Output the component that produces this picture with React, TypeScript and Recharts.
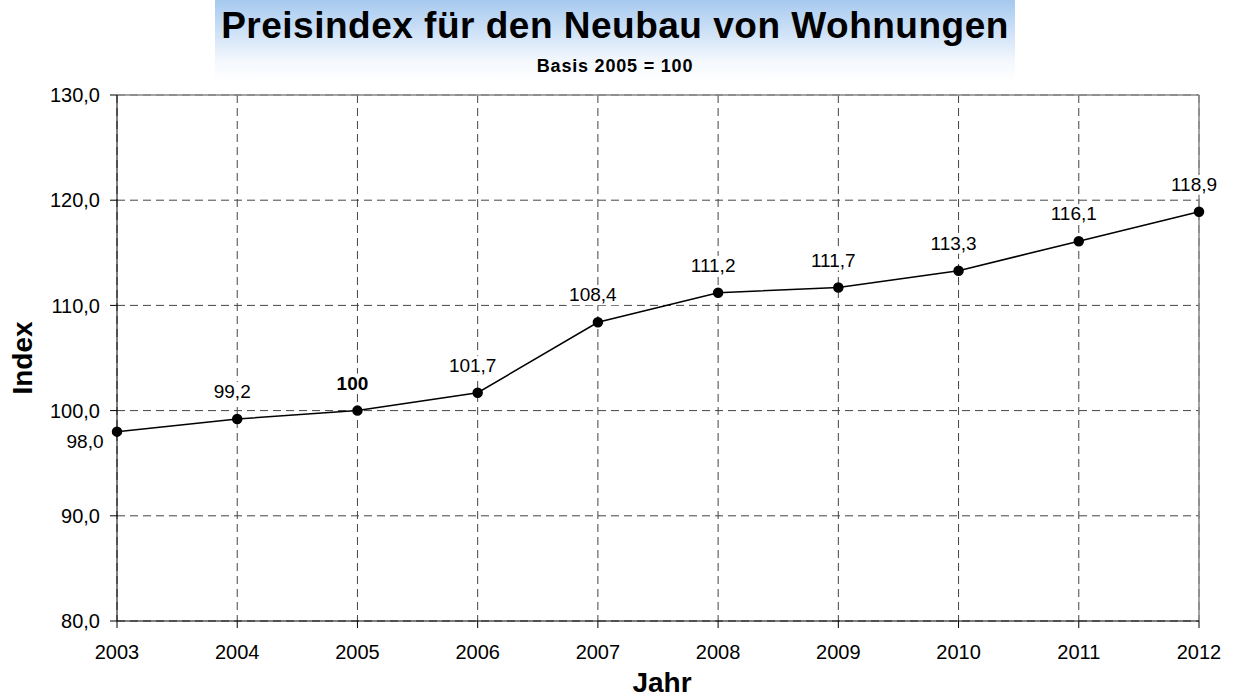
import React from 'react';
import {
  LineChart, Line, XAxis, YAxis, CartesianGrid, ReferenceLine, LabelList,
} from 'recharts';

const years = ['2003', '2004', '2005', '2006', '2007', '2008', '2009', '2010', '2011', '2012'];
const indexValues = [98.0, 99.2, 100, 101.7, 108.4, 111.2, 111.7, 113.3, 116.1, 118.9];
const pointLabels = ['98,0', '99,2', '100', '101,7', '108,4', '111,2', '111,7', '113,3', '116,1', '118,9'];
const yTicks = [80, 90, 100, 110, 120, 130];

const data = years.map((year, i) => ({ year, value: indexValues[i], label: pointLabels[i] }));

const FONT = '"Liberation Sans", Arial, Helvetica, sans-serif';
const fmt = (v: number) => v.toFixed(1).replace('.', ',');

// value label above each point, with a white box that hides the grid behind it
function PointLabel(props: any) {
  const { x, y, index } = props;
  const text = pointLabels[index];
  const bold = text === '100';
  const w = text.length * 10.5 + 2;
  // first point: label sits left of the axis, under the point
  if (index === 0) {
    return (
      <text x={x - 32} y={y + 16} textAnchor="middle" fontSize={19} fontFamily={FONT} fill="#000">
        {text}
      </text>
    );
  }
  const cx = x - 5;
  const by = y - 21;
  return (
    <g>
      <rect x={cx - w / 2} y={by - 16} width={w} height={20} fill="#fff" />
      <text x={cx} y={by} textAnchor="middle" fontSize={19} fontWeight={bold ? 700 : 400} fontFamily={FONT} fill="#000">
        {text}
      </text>
    </g>
  );
}

export default function App() {
  return (
    <div style={{ position: 'absolute', left: 0, top: 0, width: 1239, height: 700, background: '#fff', fontFamily: FONT }}>
      {/* title box */}
      <div style={{
        position: 'absolute', left: 215, top: 0, width: 800, height: 82,
        background: 'linear-gradient(to bottom, #a6c9ef 0%, #cfe2f7 40%, #f4f8fd 75%, #ffffff 100%)',
        textAlign: 'center',
      }}>
        <div style={{ fontSize: 37, fontWeight: 700, lineHeight: '37px', marginTop: 7, letterSpacing: 0.5 }}>
          Preisindex für den Neubau von Wohnungen
        </div>
        <div style={{ fontSize: 18, fontWeight: 700, lineHeight: '18px', marginTop: 13, letterSpacing: 0.8 }}>
          Basis 2005 = 100
        </div>
      </div>

      <div style={{ position: 'absolute', left: 0, top: 0 }}>
        <LineChart width={1239} height={700} data={data} margin={{ top: 95, right: 40, bottom: 49, left: 57 }}>
          <CartesianGrid stroke="#444" strokeDasharray="8 5" />
          <ReferenceLine y={130} stroke="#888" strokeWidth={1.5} />
          <ReferenceLine x="2012" stroke="#888" strokeWidth={1.5} />
          <XAxis
            dataKey="year"
            stroke="#000"
            height={30}
            tickSize={7}
            tickMargin={17}
            fontSize={20}
            tick={{ fill: '#000', fontSize: 20, fontFamily: FONT }}
            interval={0}
          />
          <YAxis
            domain={[80, 130]}
            ticks={yTicks}
            tickFormatter={fmt}
            stroke="#000"
            width={60}
            tickSize={7}
            tickMargin={10}
            fontSize={20}
            tick={{ fill: '#000', fontSize: 20, fontFamily: FONT }}
          />
          <Line
            dataKey="value"
            stroke="#000"
            strokeWidth={1.5}
            dot={{ r: 4.5, fill: '#000', stroke: '#000' }}
            isAnimationActive={false}
          >
            <LabelList dataKey="label" content={<PointLabel />} />
          </Line>
        </LineChart>
      </div>

      {/* axis titles */}
      <div style={{ position: 'absolute', left: 622, top: 669, width: 80, textAlign: 'center', fontSize: 28, fontWeight: 700, lineHeight: '28px' }}>
        Jahr
      </div>
      <div style={{
        position: 'absolute', left: 23, top: 358, fontSize: 28, fontWeight: 700, lineHeight: '28px',
        transform: 'translate(-50%, -50%) rotate(-90deg)', whiteSpace: 'nowrap',
      }}>
        Index
      </div>
    </div>
  );
}
